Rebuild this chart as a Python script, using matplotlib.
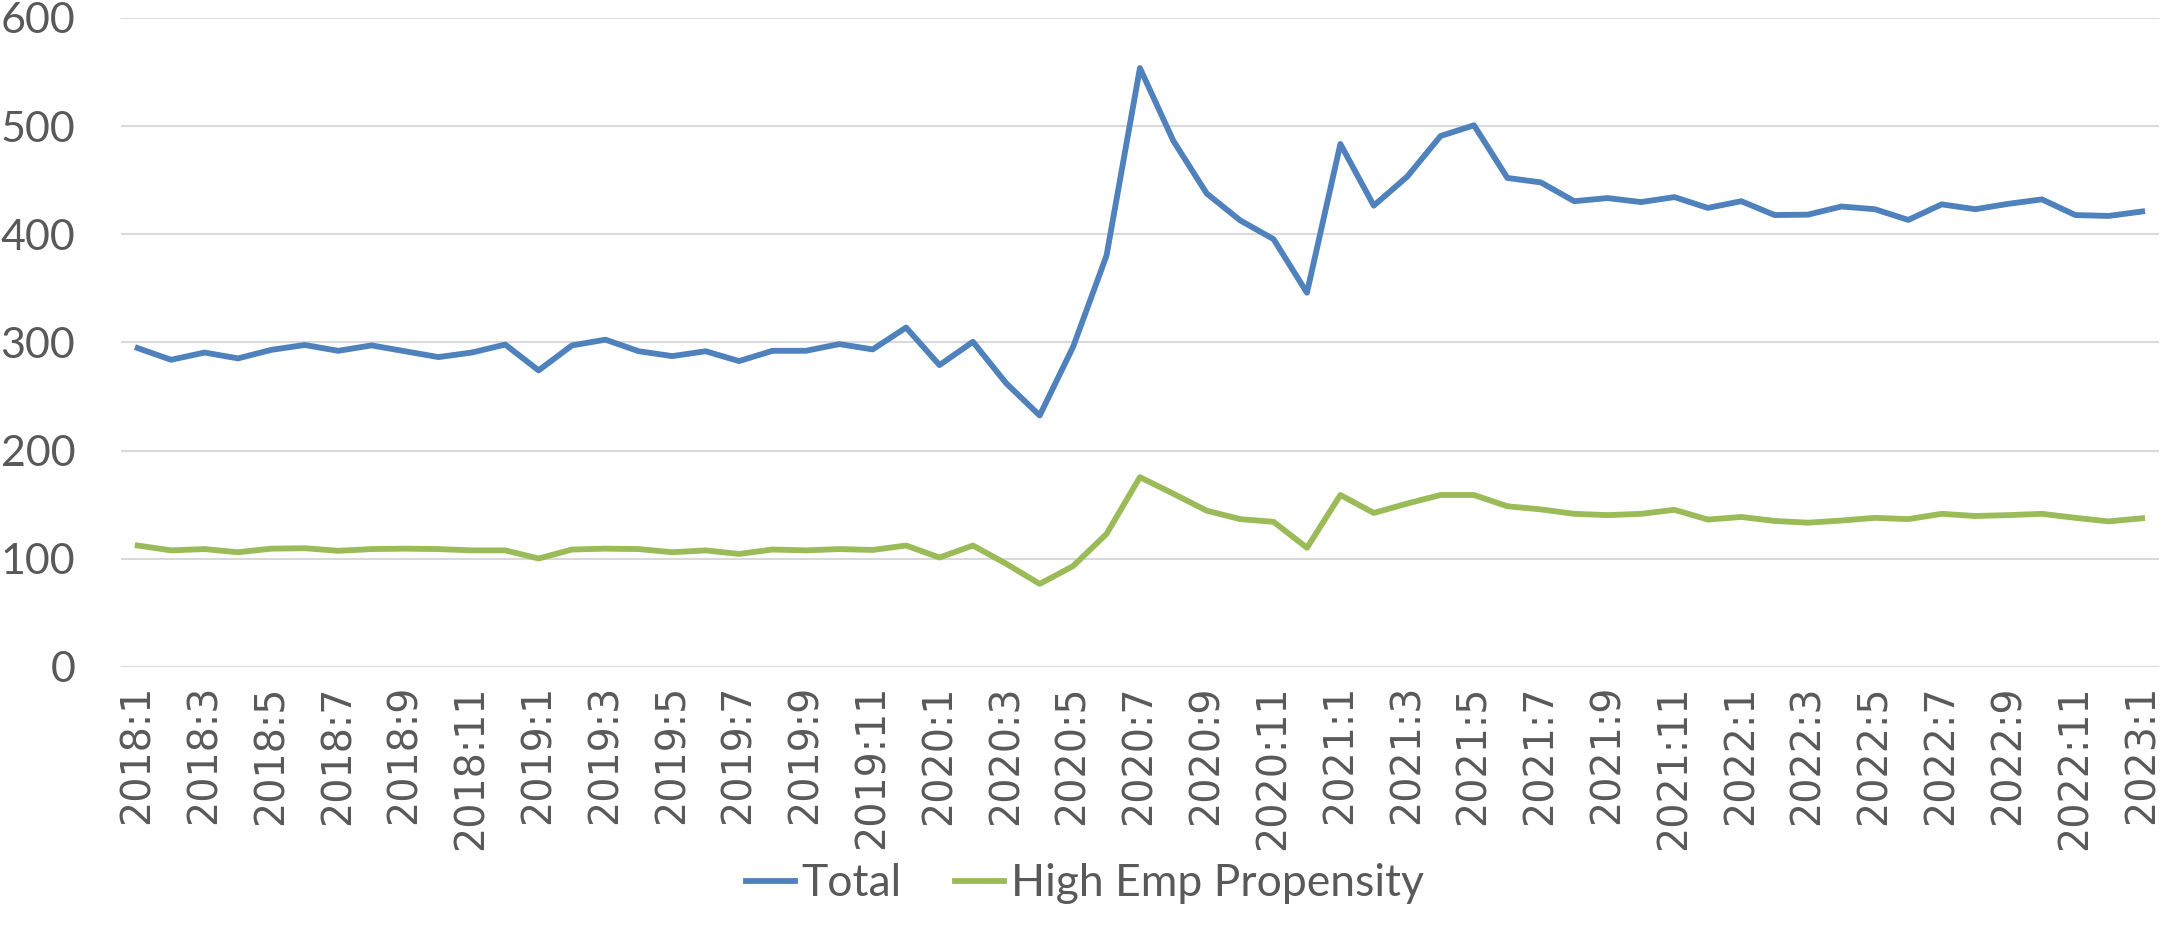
import matplotlib
matplotlib.use("Agg")
from matplotlib import pyplot as plt

# monthly series, 2018:1 .. 2023:1
months = [f"{y}:{m}" for y in range(2018, 2023) for m in range(1, 13)] + ["2023:1"]

total = [294.8, 284.0, 290.7, 285.3, 293.2, 297.7, 292.3, 297.3, 291.9, 286.5,
         290.7, 298.1, 274.2, 297.3, 302.6, 291.9, 287.4, 291.9, 282.8, 292.3,
         292.3, 298.5, 293.6, 313.8, 279.1, 300.6, 262.2, 232.5, 296.0, 380.3,
         553.7, 486.4, 437.7, 412.9, 395.5, 346.0, 483.5, 426.5, 453.3, 490.9,
         500.8, 452.1, 448.0, 430.6, 433.5, 429.8, 434.4, 424.4, 430.6, 417.8,
         418.2, 425.7, 423.2, 413.3, 427.7, 423.2, 428.2, 432.3, 417.8, 417.0,
         421.1]

high_emp = [112.3, 107.8, 109.0, 106.1, 109.4, 109.8, 107.4, 109.0, 109.4, 109.0,
            107.8, 107.8, 100.3, 108.6, 109.4, 109.0, 106.1, 107.8, 104.5, 108.6,
            107.8, 109.0, 108.2, 112.3, 101.2, 112.3, 95.4, 76.8, 93.3, 123.0,
            175.5, 160.2, 144.5, 136.7, 134.2, 110.2, 159.0, 142.4, 151.1, 159.0,
            159.0, 148.6, 145.7, 141.6, 140.4, 141.6, 145.3, 136.3, 138.7, 135.0,
            133.4, 135.4, 137.9, 136.7, 141.6, 139.6, 140.4, 141.6, 137.9, 134.6,
            137.5]

yticks = [0, 100, 200, 300, 400, 500, 600]

narrow = ["Lato", "DejaVu Sans"]
txt_color = "#595959"

fig = plt.figure(figsize=(21.61, 9.36), dpi=100)
ax = fig.add_axes([0.056, 0.2874, 0.943, 0.6934])

x = list(range(len(months)))
ax.plot(x, total, color="#4F81BD", lw=4.2, label="Total", solid_joinstyle="round")
ax.plot(x, high_emp, color="#9BBB59", lw=4.2, label="High Emp Propensity",
        solid_joinstyle="round")

ax.set_xlim(-0.5, len(months) - 0.5)
ax.set_ylim(0, 600)
ax.set_yticks(yticks)
ax.set_yticklabels([str(v) for v in yticks], family=narrow, fontsize=31, color=txt_color)
ax.set_xticks(x[::2])
ax.set_xticklabels(months[::2], rotation=90, fontsize=28.5, color=txt_color,
                   family="DejaVu Sans")
ax.tick_params(axis="y", length=0, pad=33)
ax.tick_params(axis="x", length=0, pad=13)

ax.grid(axis="y", color="#D9D9D9", lw=1.5)
ax.set_axisbelow(True)
for s in ax.spines.values():
    s.set_visible(False)

leg = fig.legend(loc="center", bbox_to_anchor=(0.502, 0.056), ncol=2, frameon=False,
                 prop={"family": narrow, "size": 32}, handlelength=1.1,
                 handletextpad=0.15, columnspacing=1.2)
for t in leg.get_texts():
    t.set_color(txt_color)

fig.savefig("out.png", dpi=100)
